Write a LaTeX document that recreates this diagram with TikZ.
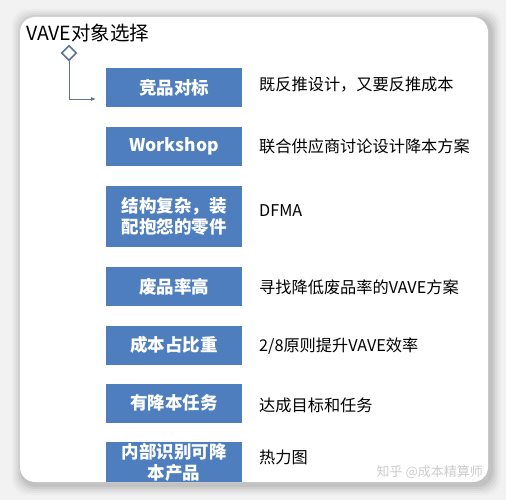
\documentclass[tikz,border=0pt]{standalone}
\usepackage{fontspec}
\setmainfont{Noto Sans CJK SC}
\usetikzlibrary{arrows.meta, shapes.geometric}

\definecolor{boxblue}{HTML}{4F7EBE}
\definecolor{linkgray}{HTML}{5E7390}
\definecolor{pagegray}{HTML}{F2F2F2}

\tikzset{
  itembox/.style={fill=boxblue, text=white, minimum width=136pt, minimum height=39pt,
    inner sep=0pt, align=center, font=\fontsize{17.5}{21}\selectfont\bfseries},
  itemnote/.style={anchor=west, inner sep=0pt, font=\fontsize{16.2}{20}\selectfont},
}

\begin{document}
\begin{tikzpicture}[x=1pt, y=-1pt]
\useasboundingbox (0,0) rectangle (506,500);
\fill[pagegray] (0,0) rectangle (506,500); %page background

% soft shadow round the card
\foreach \s/\o in {10/0.025, 8/0.03, 6/0.04, 4/0.05, 2/0.06}
  \fill[black, opacity=\o, rounded corners=16pt] (20-\s+2,17-\s+2) rectangle (488+\s+3,482+\s+3);
\fill[white, rounded corners=15pt] (20,17) rectangle (488,482);

\node[anchor=west, inner sep=0pt, font=\fontsize{19.5}{22}\selectfont] (title) at (26,33) {VAVE对象选择};
\node[diamond, draw=linkgray, line width=1.6pt, fill=white, minimum size=15pt, inner sep=0pt] (dia) at (69,53) {};

\node[itembox] (b1) at (174,87.5) {竞品对标};
\node[itembox] (b2) at (174,146.5) {Workshop};
\node[itembox, minimum height=61pt] (b3) at (174,216.5) {结构复杂，装\\配抱怨的零件};
\node[itembox] (b4) at (174,286.5) {废品率高};
\node[itembox] (b5) at (174,345) {成本占比重};
\node[itembox] (b6) at (174,403) {有降本任务};
\node[itembox, minimum height=40pt] (b7) at (174,462) {内部识别可降\\本产品};

\node[itemnote] (n1) at (259,85) {既反推设计，又要反推成本};
\node[itemnote] (n2) at (259,146) {联合供应商讨论设计降本方案};
\node[itemnote] (n3) at (259,211) {DFMA};
\node[itemnote] (n4) at (259,287) {寻找降低废品率的VAVE方案};
\node[itemnote] (n5) at (259,346) {2/8原则提升VAVE效率};
\node[itemnote] (n6) at (259,405) {达成目标和任务};
\node[itemnote] (n7) at (259,457) {热力图};

\coordinate (tip) at (96,99);
\draw[linkgray, line width=0.8pt, -{Latex[length=5pt,width=4pt]}] (dia.south) |- (tip);

\node[anchor=east, inner sep=0pt, text=gray!40, font=\fontsize{13}{15}\selectfont] (mark) at (483,472) {知乎 @成本精算师};
\end{tikzpicture}
\end{document}
